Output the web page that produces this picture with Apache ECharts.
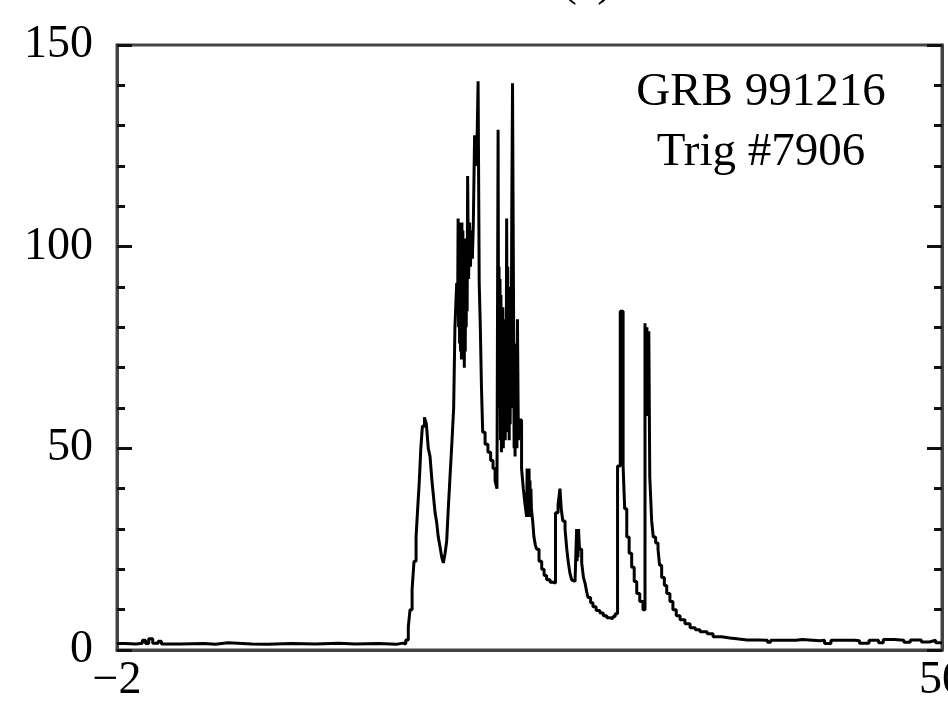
<!DOCTYPE html>
<html>
<head>
<meta charset="utf-8">
<script src="https://cdn.jsdelivr.net/npm/echarts@6/dist/echarts.min.js"></script>
<style>html,body{margin:0;padding:0;background:#fff;}#c{width:948px;height:710px;}</style>
</head>
<body>
<div id="c"></div>
<script>
// Time (s) of each bin start
const times = [
-2.00,-1.50,-0.80,-0.40,-0.20,0.00,0.25,0.60,0.80,2.00,3.50,4.20,5.00,6.50,7.50,9.00,10.50,12.00,13.00,14.50,15.60,16.00,16.20,
16.36,16.47,16.60,16.72,16.85,16.95,17.05,17.15,17.25,17.38,17.50,17.62,17.73,17.85,17.95,18.05,18.15,18.25,18.36,18.47,18.57,18.68,18.78,18.88,18.99,19.11,19.22,19.30,19.41,
19.47,19.50,19.53,19.56,19.59,19.62,19.65,19.68,19.71,19.74,19.77,19.80,19.83,19.86,19.89,19.92,19.95,19.98,20.01,20.04,20.07,
20.10,20.16,20.22,20.28,20.34,20.40,20.46,20.54,20.62,20.70,20.76,20.83,20.90,20.97,21.05,21.20,21.38,21.55,21.70,21.83,21.95,
22.02,22.05,22.08,22.11,22.14,22.17,22.20,22.23,22.26,22.29,22.32,22.35,22.38,22.41,22.44,22.47,22.50,22.53,22.56,22.60,22.63,22.66,22.69,22.72,22.75,22.78,22.81,22.84,22.88,22.93,
23.00,23.03,23.06,23.09,23.12,23.15,23.18,23.21,23.24,23.30,23.36,23.50,23.61,23.72,
23.82,23.85,23.88,23.91,23.94,23.97,24.00,24.03,24.06,24.09,24.12,24.20,24.28,24.37,24.45,24.60,24.77,24.92,25.08,25.30,25.50,
25.64,25.80,25.92,26.00,26.10,26.24,26.35,26.45,26.55,26.66,26.76,26.87,26.97,27.00,27.03,27.06,27.09,27.15,27.29,27.40,27.50,27.60,27.69,27.85,28.00,28.20,28.44,28.65,28.87,29.05,29.26,29.40,
29.55,29.72,29.90,30.00,30.13,30.28,30.44,30.60,30.76,30.95,31.15,
31.28,31.31,31.34,31.37,31.40,31.43,31.46,31.49,31.52,31.58,31.70,31.80,31.95,32.10,32.20,32.33,32.50,32.65,32.85,33.04,33.25,33.49,33.80,34.12,34.45,34.75,35.20,35.57,36.10,36.64,37.20,37.71,
38.40,39.00,39.20,40.00,40.80,41.20,42.30,42.60,43.00,44.50,44.80,45.40,46.00,46.30,47.00,47.60,48.00,48.70,49.20,49.60,50.00
];
// Counts in each bin
const counts = [
1.6,1.5,1.7,2.4,1.6,2.8,1.7,2.2,1.5,1.6,1.4,1.8,1.5,1.4,1.6,1.5,1.7,1.5,1.6,1.4,1.7,1.5,2.5,
5.7,10,15,22,28,35,41.5,50,55.5,57.7,56,50,48,42,38,34,31.6,28,25.6,23,21.6,24,27,35,43,51.5,60,80,91,
84,107,80,104,76,106,74,100,72,106,78,104,72,98,70,95,74,102,80,98,84,
117.5,92,106,95,104,97,106,127.6,120,127.6,141,91,80,65.5,54,51,49,47,45,42,40,
129,74,95,60,92,52,88,49,80,55,85,50,78,56,82,52,70,62,107,60,95,54,90,52,80,56,75,60,107,140.5,
80,50,76,48,72,52,70,50,82,52,57,45,40,36,
33,45,34,44,33,45,34,42,33,40,35,32,28,26,25,22,20,18.5,17.4,16.8,16.6,
34,36,40,35,32,30,25,21.6,19,17.4,17,16.6,30,22,30,23,30,25,21.6,18,16.6,14.5,13,11.7,10.7,9.8,9.2,8.5,8,7.8,8.3,9,
45.6,84,45.6,35,28,24,20.5,17,14,12,10,
81,62,80,60,80,58,79,64,79,43,32,28,26.5,25,21,18,16,14,12,10,8.5,7.5,6.5,5.5,5.0,4.5,4.0,3.3,3.0,2.7,2.5,2.5,
2.4,1.9,2.4,2.4,2.6,2.3,2.4,1.6,2.4,2.3,1.7,2.4,1.8,2.6,2.4,1.9,2.5,2.0,2.4,1.8,1.8
];
const xTickLabels = [-2, 50];
const yTicks = [0, 50, 100, 150];
const titleText = '(a)';
const noteLines = ['GRB 991216', 'Trig #7906'];

const FONT = '"Liberation Serif", "Times New Roman", serif';
const chart = echarts.init(document.getElementById('c'), null, {renderer: 'canvas'});
const data = times.map((t, i) => [t, counts[i]]);
const fmt = v => (v < 0 ? '\u2212' + Math.abs(v) : String(v));

const yAxisCommon = {
  type: 'value', min: yTicks[0], max: yTicks[yTicks.length - 1], interval: 50,
  axisLine: {show: true, onZero: false, lineStyle: {color: '#444', width: 3}},
  axisTick: {show: true, inside: true, length: 15, lineStyle: {color: '#111', width: 3}},
  minorTick: {show: true, splitNumber: 5, length: 8, lineStyle: {color: '#111', width: 3}},
  splitLine: {show: false}, minorSplitLine: {show: false}
};

chart.setOption({
  animation: false,
  backgroundColor: '#fff',
  grid: {left: 117, right: 6, top: 45, bottom: 60, containLabel: false, outerBoundsMode: 'none',
         show: true, borderColor: '#444', borderWidth: 3},
  xAxis: {
    type: 'value', min: -2, max: 50,
    axisLine: {show: true, onZero: false, lineStyle: {color: '#444', width: 3}},
    axisTick: {show: false},
    splitLine: {show: false},
    axisLabel: {customValues: xTickLabels, formatter: fmt, fontFamily: FONT, fontSize: 46, color: '#000', margin: 8}
  },
  yAxis: [
    Object.assign({}, yAxisCommon, {position: 'left',
      axisLabel: {fontFamily: FONT, fontSize: 46, color: '#000', margin: 24, formatter: fmt}}),
    Object.assign({}, yAxisCommon, {position: 'right', axisLabel: {show: false}})
  ],
  graphic: [
    {type: 'text', z: 10, style: {text: titleText, x: 587, y: 6, font: '46px ' + FONT, fill: '#000', align: 'center', verticalAlign: 'bottom'}},
    {type: 'text', z: 10, style: {text: noteLines[0], x: 761, y: 69, font: '47px ' + FONT, fill: '#000', align: 'center', verticalAlign: 'top'}},
    {type: 'text', z: 10, style: {text: noteLines[1], x: 761, y: 129, font: '47px ' + FONT, fill: '#000', align: 'center', verticalAlign: 'top'}}
  ],
  series: [{
    type: 'line', step: 'end', data: data, yAxisIndex: 0,
    showSymbol: false, symbol: 'none',
    lineStyle: {color: '#000', width: 3},
    clip: true
  }]
});
</script>
</body>
</html>
